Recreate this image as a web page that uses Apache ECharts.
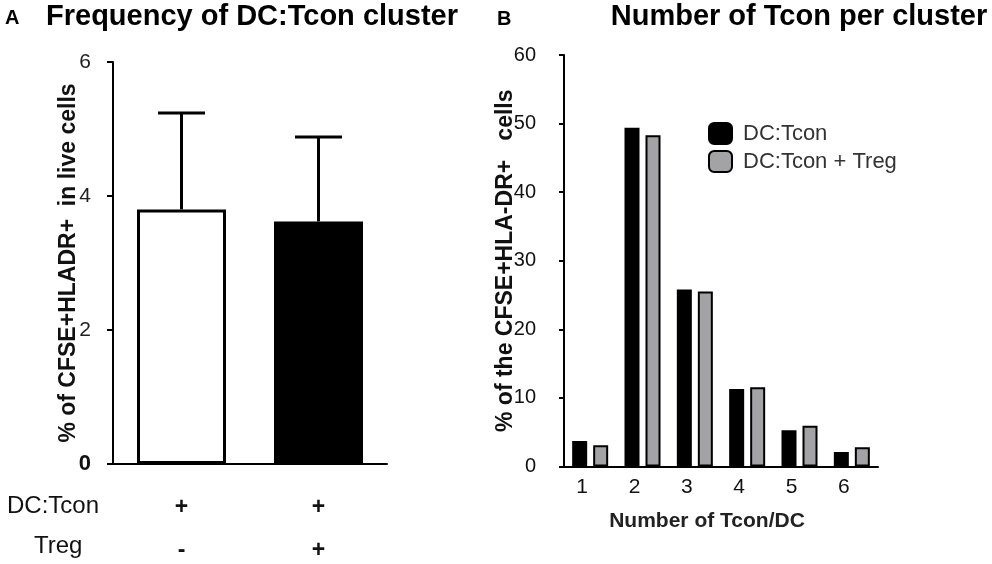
<!DOCTYPE html>
<html>
<head>
<meta charset="utf-8">
<title>DC:Tcon clusters</title>
<script src="https://cdn.jsdelivr.net/npm/echarts@6/dist/echarts.min.js"></script>
<style>
  html, body { margin: 0; padding: 0; background: #fff; }
  #main { width: 992px; height: 564px; }
</style>
</head>
<body>
<div id="main"></div>
<script>
// panel A: frequency of clusters (mean + SD)
var conditionsA = ['DC:Tcon', 'DC:Tcon + Treg'];
var dcTconRow = ['+', '+'];
var tregRow = ['-', '+'];
var meanA = [3.80, 3.62];
var sdA = [1.44, 1.26];
var ticksA = [0, 2, 4, 6];

// panel B: number of Tcon per cluster
var clusterSizes = ['1', '2', '3', '4', '5', '6'];
var dcTcon = [3.7, 49.4, 25.8, 11.3, 5.3, 2.1];
var dcTconTreg = [3.1, 48.3, 25.5, 11.55, 5.95, 2.8];

var FONT = 'Liberation Sans, Arial, sans-serif';

var myChart = echarts.init(document.getElementById('main'));

myChart.setOption({
    backgroundColor: '#fff',
    animation: false,
    textStyle: { fontFamily: FONT },
    title: [
        { text: 'A', left: 5, top: 8, padding: 0,
          textStyle: { fontSize: 20, fontWeight: 'bold', color: '#000', fontFamily: FONT } },
        { text: 'Frequency of DC:Tcon cluster', left: 252, top: 2, padding: 0, textAlign: 'center',
          textStyle: { fontSize: 29, fontWeight: 'bold', color: '#000', fontFamily: FONT } },
        { text: 'B', left: 497, top: 9, padding: 0,
          textStyle: { fontSize: 20, fontWeight: 'bold', color: '#000', fontFamily: FONT } },
        { text: 'Number of Tcon per cluster', left: 799, top: 2, padding: 0, textAlign: 'center',
          textStyle: { fontSize: 29, fontWeight: 'bold', color: '#000', fontFamily: FONT } }
    ],
    legend: {
        data: ['DC:Tcon', 'DC:Tcon + Treg'],
        orient: 'vertical',
        left: 708, top: 122,
        itemWidth: 23, itemHeight: 21,
        itemGap: 5,
        padding: 0,
        icon: 'roundRect',
        textStyle: { fontSize: 22, color: '#333', fontFamily: FONT, padding: [6, 0, 0, 6] }
    },
    grid: [
        { left: 113, top: 62, width: 274, height: 402, outerBoundsMode: 'none' },
        { left: 564, top: 55, width: 314, height: 411.5, outerBoundsMode: 'none' }
    ],
    xAxis: [
        {
            gridIndex: 0,
            type: 'category',
            data: conditionsA,
            axisLine: { lineStyle: { color: '#000', width: 2 } },
            axisTick: { alignWithLabel: true, length: 6, lineStyle: { color: '#000', width: 2 } },
            axisLabel: {
                margin: 22,
                fontSize: 23,
                fontWeight: 'bold',
                lineHeight: 43,
                color: '#111',
                formatter: function (v, i) { return dcTconRow[i] + '\n' + tregRow[i]; }
            }
        },
        {
            gridIndex: 1,
            type: 'category',
            data: clusterSizes,
            name: 'Number of Tcon/DC',
            nameLocation: 'middle',
            nameGap: 44,
            nameMoveOverlap: false,
            nameTextStyle: { fontSize: 21, fontWeight: 'bold', color: '#222', padding: [0, 28, 0, 0] },
            axisLine: { lineStyle: { color: '#000', width: 2 } },
            axisTick: { alignWithLabel: true, length: 6, lineStyle: { color: '#000', width: 2 } },
            axisLabel: { margin: 10, fontSize: 21, color: '#111', padding: [0, 16, 0, 0] }
        }
    ],
    yAxis: [
        {
            gridIndex: 0,
            type: 'value',
            min: 0, max: 6, interval: 2,
            name: '% of CFSE+HLADR+  in live cells',
            nameLocation: 'middle',
            nameGap: 33,
            nameMoveOverlap: false,
            nameTextStyle: { fontSize: 23, fontWeight: 'bold', color: '#111' },
            splitLine: { show: false },
            axisLine: { show: true, lineStyle: { color: '#000', width: 2 } },
            axisTick: { show: true, length: 6, lineStyle: { color: '#000', width: 2 } },
            axisLabel: {
                margin: 22, fontSize: 21, color: '#222',
                formatter: function (v) { return v === ticksA[0] ? '{z|' + v + '}' : String(v); },
                rich: { z: { fontSize: 22, fontWeight: 'bold', color: '#111' } }
            }
        },
        {
            gridIndex: 1,
            type: 'value',
            min: 0, max: 60, interval: 10,
            name: '% of the CFSE+HLA-DR+   cells',
            nameLocation: 'middle',
            nameGap: 47,
            nameMoveOverlap: false,
            nameTextStyle: { fontSize: 23, fontWeight: 'bold', color: '#111' },
            splitLine: { show: false },
            axisLine: { show: true, lineStyle: { color: '#000', width: 2 } },
            axisTick: { show: true, length: 5, lineStyle: { color: '#000', width: 2 } },
            axisLabel: { margin: 28, fontSize: 20, color: '#111' }
        }
    ],
    series: [
        {
            name: 'freq',
            type: 'bar',
            xAxisIndex: 0, yAxisIndex: 0,
            barWidth: 89,
            data: [
                { value: meanA[0], itemStyle: { color: '#fff', borderColor: '#000', borderWidth: 3 } },
                { value: meanA[1], itemStyle: { color: '#000', borderColor: '#000', borderWidth: 2 } }
            ]
        },
        {
            name: 'sd',
            type: 'custom',
            xAxisIndex: 0, yAxisIndex: 0,
            z: 5,
            data: meanA.map(function (m, i) { return [i, m, sdA[i]]; }),
            encode: { x: 0, y: 1 },
            renderItem: function (params, api) {
                var base = api.coord([api.value(0), api.value(1)]);
                var top = api.coord([api.value(0), api.value(1) + api.value(2)]);
                var half = 23.5;
                var st = { stroke: '#000', lineWidth: 3 };
                return {
                    type: 'group',
                    children: [
                        { type: 'line', shape: { x1: base[0], y1: base[1], x2: top[0], y2: top[1] }, style: st },
                        { type: 'line', shape: { x1: top[0] - half, y1: top[1], x2: top[0] + half, y2: top[1] }, style: st }
                    ]
                };
            }
        },
        {
            name: 'DC:Tcon',
            type: 'bar',
            xAxisIndex: 1, yAxisIndex: 1,
            barWidth: 15,
            barGap: '40%',
            itemStyle: { color: '#000', borderColor: '#000', borderWidth: 2 },
            data: dcTcon
        },
        {
            name: 'DC:Tcon + Treg',
            type: 'bar',
            xAxisIndex: 1, yAxisIndex: 1,
            barWidth: 15,
            barGap: '40%',
            itemStyle: { color: '#a3a3a6', borderColor: '#000', borderWidth: 2 },
            data: dcTconTreg
        }
    ],
    graphic: [
        { type: 'text', left: 7, top: 494,
          style: { text: 'DC:Tcon', fontSize: 24, fontFamily: FONT, fill: '#111' } },
        { type: 'text', left: 34, top: 534,
          style: { text: 'Treg', fontSize: 24, fontFamily: FONT, fill: '#111' } }
    ]
});
</script>
</body>
</html>
